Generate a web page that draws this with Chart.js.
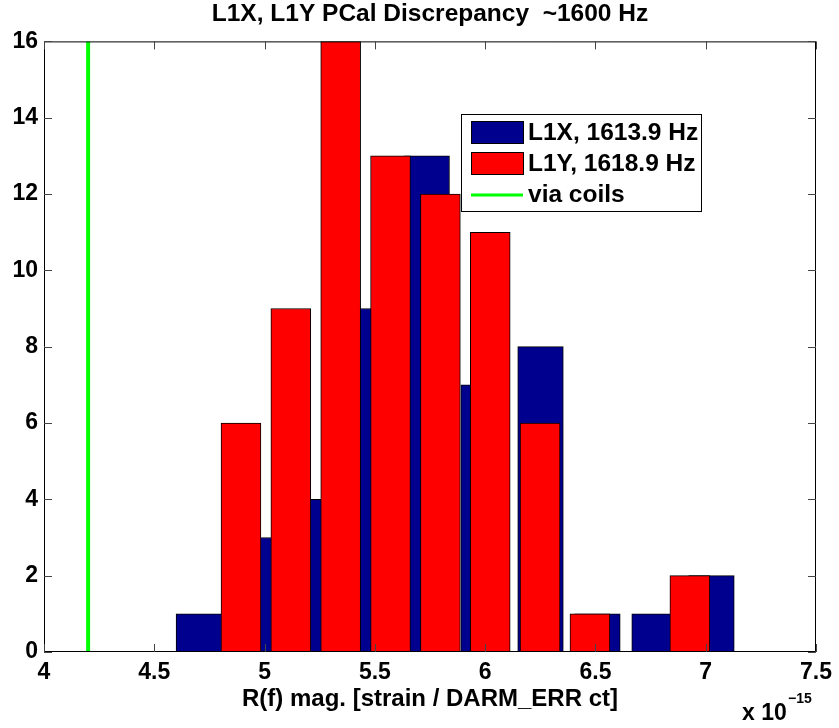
<!DOCTYPE html>
<html>
<head>
<meta charset="utf-8">
<title>L1X, L1Y PCal Discrepancy</title>
<script src="https://cdn.jsdelivr.net/npm/chart.js@4.4.0/dist/chart.umd.min.js"></script>
<style>
html, body { margin: 0; padding: 0; background: #fff; }
#wrap { width: 839px; height: 728px; }
</style>
</head>
<body>
<div id="wrap"><canvas id="histChart" width="839" height="728"></canvas></div>
<script>
// histogram bin centres, in units of 1e-15 strain / DARM_ERR ct
var binsX = [4.702, 4.960, 5.218, 5.477, 5.735, 5.993, 6.251, 6.509, 6.768, 7.026];
var countsX = [1, 3, 4, 9, 13, 7, 8, 1, 1, 2];
var binsY = [4.893, 5.119, 5.345, 5.571, 5.797, 6.023, 6.249, 6.475, 6.702, 6.928];
var countsY = [6, 9, 16, 13, 12, 11, 6, 1, 0, 2];
var widthX = 0.2066, widthY = 0.1809;   // bar widths (0.8 of bin spacing)
var coils = [4.2];
var labels = ['L1X, 1613.9 Hz', 'L1Y, 1618.9 Hz', 'via coils'];
var xTicks = [4, 4.5, 5, 5.5, 6, 6.5, 7, 7.5];
var yTicks = [0, 2, 4, 6, 8, 10, 12, 14, 16];

var FONT = '"Liberation Sans", Arial, Helvetica, sans-serif';

function pts(xs, ys) {
    return xs.map(function (x, i) { return {x: x, y: ys[i]}; });
}

// axes box + inward tick marks, matlab style
var frame = {
    id: 'frame',
    afterDatasetsDraw: function (chart) {
        var a = chart.chartArea, ctx = chart.ctx;
        var xs = chart.scales.x, ys = chart.scales.y;
        ctx.save();
        ctx.strokeStyle = '#000';
        ctx.lineWidth = 1;
        ctx.beginPath();
        ctx.rect(a.left + 0.5, a.top + 0.5, a.right - a.left - 1, a.bottom - a.top - 1);
        ctx.stroke();
        ctx.strokeStyle = '#444';
        ctx.beginPath();
        xs.ticks.forEach(function (t) {
            var p = Math.round(xs.getPixelForValue(t.value)) + 0.5;
            ctx.moveTo(p, a.bottom); ctx.lineTo(p, a.bottom - 8);
            ctx.moveTo(p, a.top); ctx.lineTo(p, a.top + 8);
        });
        ys.ticks.forEach(function (t) {
            var p = Math.round(ys.getPixelForValue(t.value)) + 0.5;
            ctx.moveTo(a.left, p); ctx.lineTo(a.left + 8, p);
            ctx.moveTo(a.right, p); ctx.lineTo(a.right - 8, p);
        });
        ctx.stroke();
        ctx.restore();
    },
    afterDraw: function (chart) {
        var ctx = chart.ctx, a = chart.chartArea;
        ctx.save();
        ctx.fillStyle = '#000';
        ctx.textBaseline = 'alphabetic';
        ctx.textAlign = 'left';
        ctx.font = 'bold 23px ' + FONT;
        ctx.fillText('x 10', a.right - 74, 720);
        ctx.font = 'bold 14px ' + FONT;
        ctx.fillText('\u221215', a.right - 28, 703);
        ctx.restore();
    }
};

// legend box in the upper right of the axes
var boxLegend = {
    id: 'boxLegend',
    afterDraw: function (chart) {
        var ctx = chart.ctx;
        var x0 = 461, y0 = 114, w = 240, h = 97;
        ctx.save();
        ctx.fillStyle = '#fff';
        ctx.fillRect(x0, y0, w, h);
        ctx.strokeStyle = '#000';
        ctx.lineWidth = 1;
        ctx.strokeRect(x0 + 0.5, y0 + 0.5, w, h);
        ctx.font = 'bold 24.5px ' + FONT;
        ctx.textBaseline = 'middle';
        chart.data.datasets.forEach(function (ds, i) {
            var cy = y0 + 18 + i * 31;
            if (ds.type === 'line') {
                ctx.strokeStyle = ds.borderColor;
                ctx.lineWidth = 3;
                ctx.beginPath();
                ctx.moveTo(x0 + 10, cy + 1); ctx.lineTo(x0 + 62, cy + 1);
                ctx.stroke();
            } else {
                ctx.fillStyle = ds.backgroundColor;
                ctx.fillRect(x0 + 10, cy - 11, 52, 22);
                ctx.strokeStyle = '#000';
                ctx.lineWidth = 1;
                ctx.strokeRect(x0 + 10.5, cy - 10.5, 52, 22);
            }
            ctx.fillStyle = '#000';
            ctx.fillText(ds.label, x0 + 67, cy + 1);
        });
        ctx.restore();
    }
};

var hist = new Chart(document.getElementById('histChart'), {
    type: 'bar',
    data: {
        datasets: [
            {
                label: labels[0],
                data: pts(binsX, countsX),
                backgroundColor: 'rgb(0,0,143)',
                borderColor: '#000',
                borderWidth: 1,
                borderSkipped: false,
                grouped: false,
                order: 2
            },
            {
                label: labels[1],
                data: pts(binsY, countsY),
                backgroundColor: '#ff0000',
                borderColor: '#000',
                borderWidth: 1,
                borderSkipped: false,
                grouped: false,
                order: 1
            },
            {
                type: 'line',
                label: labels[2],
                data: [{x: coils[0], y: 0}, {x: coils[0], y: 16}],
                borderColor: '#00ff00',
                borderWidth: 4,
                pointRadius: 0,
                order: 0
            }
        ]
    },
    options: {
        responsive: false,
        animation: false,
        layout: { padding: { left: 0, right: 20, top: 0, bottom: 0 } },
        scales: {
            x: {
                type: 'linear',
                min: 4,
                max: 7.5,
                offset: false,
                grid: { display: false, drawTicks: false },
                border: { display: false },
                afterBuildTicks: function (s) { s.ticks = xTicks.map(function (v) { return {value: v}; }); },
                afterFit: function (s) { s.height = 76; },
                ticks: {
                    padding: 7,
                    color: '#000',
                    font: { family: FONT, size: 23, weight: 'bold' },
                    maxRotation: 0,
                    callback: function (v) { return String(v); }
                },
                title: {
                    display: true,
                    text: 'R(f) mag. [strain / DARM_ERR ct]',
                    color: '#000',
                    font: { family: FONT, size: 24, weight: 'bold' },
                    padding: { top: 0, bottom: 14 }
                }
            },
            y: {
                min: 0,
                max: 16,
                grid: { display: false, drawTicks: false },
                border: { display: false },
                afterBuildTicks: function (s) { s.ticks = yTicks.map(function (v) { return {value: v}; }); },
                afterFit: function (s) { s.width = 44; },
                ticks: {
                    padding: 6,
                    color: '#000',
                    font: { family: FONT, size: 23, weight: 'bold' }
                }
            }
        },
        plugins: {
            legend: { display: false },
            tooltip: { enabled: false },
            title: {
                display: true,
                fullSize: false,
                text: 'L1X, L1Y PCal Discrepancy  ~1600 Hz',
                color: '#000',
                font: { family: FONT, size: 24.5, weight: 'bold' },
                padding: { top: 0, bottom: 12 }
            }
        }
    },
    plugins: [frame, boxLegend]
});

// bar widths follow the bin widths on the x scale
function pxWidth(w) {
    var xs = hist.scales.x;
    return Math.abs(xs.getPixelForValue(xs.min + w) - xs.getPixelForValue(xs.min));
}
hist.data.datasets[0].barThickness = pxWidth(widthX);
hist.data.datasets[1].barThickness = pxWidth(widthY);
hist.update();
</script>
</body>
</html>
